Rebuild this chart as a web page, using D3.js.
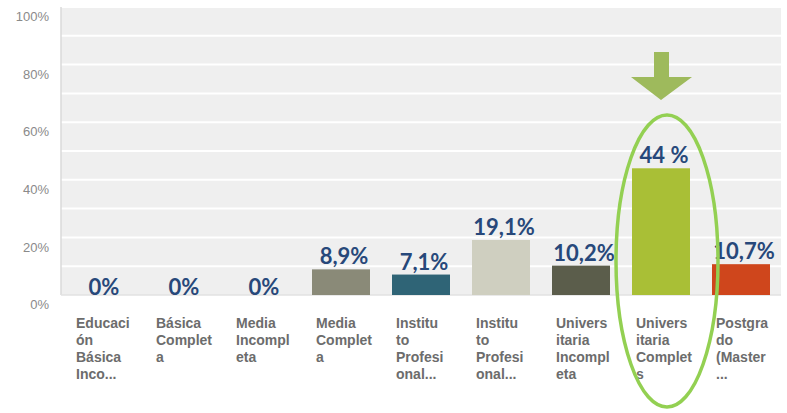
<!DOCTYPE html>
<html>
<head>
<meta charset="utf-8">
<script src="https://cdn.jsdelivr.net/npm/d3@7/dist/d3.min.js"></script>
<style>
  html, body { margin: 0; padding: 0; background: #ffffff; }
  svg { display: block; }
</style>
</head>
<body>
<svg id="chart" width="787" height="413"></svg>
<script>
// Nivel educacional: porcentaje por categoría
const categories = [
  "Educación Básica Incompleta", "Básica Completa", "Media Incompleta",
  "Media Completa", "Instituto Profesional Incompleto", "Instituto Profesional Completo",
  "Universitaria Incompleta", "Universitaria Completa", "Postgrado (Master ...)"
];
const categoryLines = [
  ["Educaci", "ón", "Básica", "Inco..."],
  ["Básica", "Complet", "a"],
  ["Media", "Incompl", "eta"],
  ["Media", "Complet", "a"],
  ["Institu", "to", "Profesi", "onal..."],
  ["Institu", "to", "Profesi", "onal..."],
  ["Univers", "itaria", "Incompl", "eta"],
  ["Univers", "itaria", "Complet", "s"],
  ["Postgra", "do", "(Master", "..."]
];
const values = [0, 0, 0, 8.9, 7.1, 19.1, 10.2, 44, 10.7];
const valueLabels = ["0%", "0%", "0%", "8,9%", "7,1%", "19,1%", "10,2%", "44 %", "10,7%"];
const barColors = ["#8a8a78", "#8a8a78", "#8a8a78", "#8a8a78", "#2f6476", "#cfcfc0", "#5b5d4b", "#a9bf36", "#cf461c"];
const yTicks = [0, 20, 40, 60, 80, 100];
const gridTicks = d3.range(0, 101, 10);
const highlighted = "Universitaria Completa";

const svg = d3.select("#chart");
const plot = { left: 61, right: 781, top: 7, bottom: 295 };

const x = d3.scaleBand()
  .domain(categories)
  .range([plot.left, plot.right])
  .paddingInner(0.275)
  .paddingOuter(0.1375);

const y = d3.scaleLinear().domain([0, 100]).range([plot.bottom, plot.top]);

// plot background
svg.append("rect")
  .attr("x", plot.left).attr("y", plot.top)
  .attr("width", plot.right - plot.left).attr("height", plot.bottom - plot.top)
  .attr("fill", "#efefef");

// white gridlines every 10%
svg.append("g").selectAll("line")
  .data(gridTicks.filter(d => d > 0))
  .join("line")
  .attr("x1", plot.left).attr("x2", plot.right)
  .attr("y1", d => y(d)).attr("y2", d => y(d))
  .attr("stroke", "#ffffff").attr("stroke-width", 2);

// axis lines
svg.append("line")
  .attr("x1", plot.left).attr("x2", plot.left)
  .attr("y1", plot.top).attr("y2", plot.bottom)
  .attr("stroke", "#dadada").attr("stroke-width", 1.5);
svg.append("line")
  .attr("x1", plot.left).attr("x2", plot.right)
  .attr("y1", plot.bottom).attr("y2", plot.bottom)
  .attr("stroke", "#e2e2e2").attr("stroke-width", 1.5);

// y axis labels
const yAxis = d3.axisLeft(y)
  .tickValues(yTicks)
  .tickFormat(d => d + "%")
  .tickSize(0)
  .tickPadding(12);
const yg = svg.append("g").attr("transform", `translate(${plot.left},0)`).call(yAxis);
yg.select(".domain").remove();
yg.selectAll("text")
  .attr("dy", "1.05em")
  .attr("fill", "#8a8a8a")
  .style("font-family", "'Liberation Sans', Arial, sans-serif")
  .style("font-size", "13px");

// bars
svg.append("g").selectAll("rect")
  .data(values)
  .join("rect")
  .attr("x", (d, i) => x(categories[i]))
  .attr("y", d => y(d))
  .attr("width", x.bandwidth())
  .attr("height", d => y(0) - y(d))
  .attr("fill", (d, i) => barColors[i]);

// value labels
svg.append("g").selectAll("text")
  .data(values)
  .join("text")
  .attr("x", (d, i) => x(categories[i]) + x.bandwidth() / 2 + 3)
  .attr("y", d => d === 0 ? y(0) : y(d) - 5)
  .attr("text-anchor", "middle")
  .attr("fill", "#27487a")
  .style("font-family", "Lato, 'Open Sans', sans-serif")
  .style("font-weight", "bold")
  .style("font-size", "22px")
  .text((d, i) => valueLabels[i]);

// category labels, wrapped
const xg = svg.append("g");
categories.forEach((c, i) => {
  const t = xg.append("text")
    .attr("x", x(c) + 4)
    .attr("y", 328)
    .attr("fill", "#6c6c6c")
    .style("font-family", "'Liberation Sans', Arial, sans-serif")
    .style("font-weight", "bold")
    .style("font-size", "14px");
  categoryLines[i].forEach((line, j) => {
    t.append("tspan").attr("x", x(c) + 4).attr("y", 328 + j * 17).text(line);
  });
});

// highlight: ellipse and arrow around the main category
const hx = x(highlighted) + x.bandwidth() / 2;
svg.append("ellipse")
  .attr("cx", hx + 6).attr("cy", 261)
  .attr("rx", 51).attr("ry", 146)
  .attr("fill", "none")
  .attr("stroke", "#93d052").attr("stroke-width", 3.5);

const arrowTop = 52, shaftEnd = 77, tip = 100;
svg.append("path")
  .attr("d", d3.line()([
    [hx - 7, arrowTop], [hx + 8, arrowTop], [hx + 8, shaftEnd], [hx + 31, shaftEnd],
    [hx, tip], [hx - 30, shaftEnd], [hx - 7, shaftEnd]
  ]) + "Z")
  .attr("fill", "#9eba5c");
</script>
</body>
</html>
